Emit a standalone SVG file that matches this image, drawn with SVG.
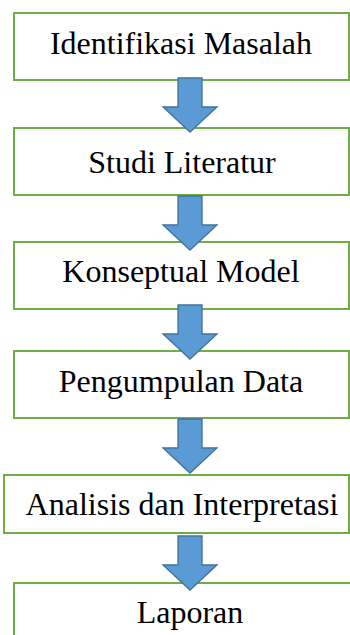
<svg xmlns="http://www.w3.org/2000/svg" width="350" height="635" viewBox="0 0 350 635">
<style>
.box{fill:#fff;stroke:#70AD47;stroke-width:2}
.lbl{font-family:"Liberation Serif","Times New Roman",serif;font-size:32px;fill:#000;text-anchor:middle}
.arr{fill:#5B9BD5;stroke:#41719C;stroke-width:1.3;stroke-linejoin:miter}
</style>
<defs>
<path id="dn" d="M-12,0 H12 V29 H27 L0,54 L-27,29 H-12 Z"/>
</defs>
<rect x="0" y="0" width="350" height="635" fill="#fff"/>
<g id="n1"><rect class="box" x="14" y="13" width="335" height="67"/><text class="lbl" x="181" y="54">Identifikasi Masalah</text></g>
<g id="n2"><rect class="box" x="14" y="128" width="335" height="67"/><text class="lbl" x="182" y="173">Studi Literatur</text></g>
<g id="n3"><rect class="box" x="14" y="242" width="335" height="67"/><text class="lbl" x="181" y="282">Konseptual Model</text></g>
<g id="n4"><rect class="box" x="14" y="351" width="335" height="67"/><text class="lbl" x="181" y="392">Pengumpulan Data</text></g>
<g id="n5"><rect class="box" x="4" y="475" width="345" height="58"/><text class="lbl" x="182" y="515">Analisis dan Interpretasi</text></g>
<g id="n6"><rect class="box" x="14" y="583" width="360" height="70"/><text class="lbl" x="190" y="623">Laporan</text></g>
<g id="connectors">
<use href="#dn" class="arr" x="190" y="78"/>
<use href="#dn" class="arr" x="190" y="196"/>
<use href="#dn" class="arr" x="190" y="305"/>
<use href="#dn" class="arr" x="190" y="419"/>
<use href="#dn" class="arr" x="190" y="536"/>
</g>
</svg>
